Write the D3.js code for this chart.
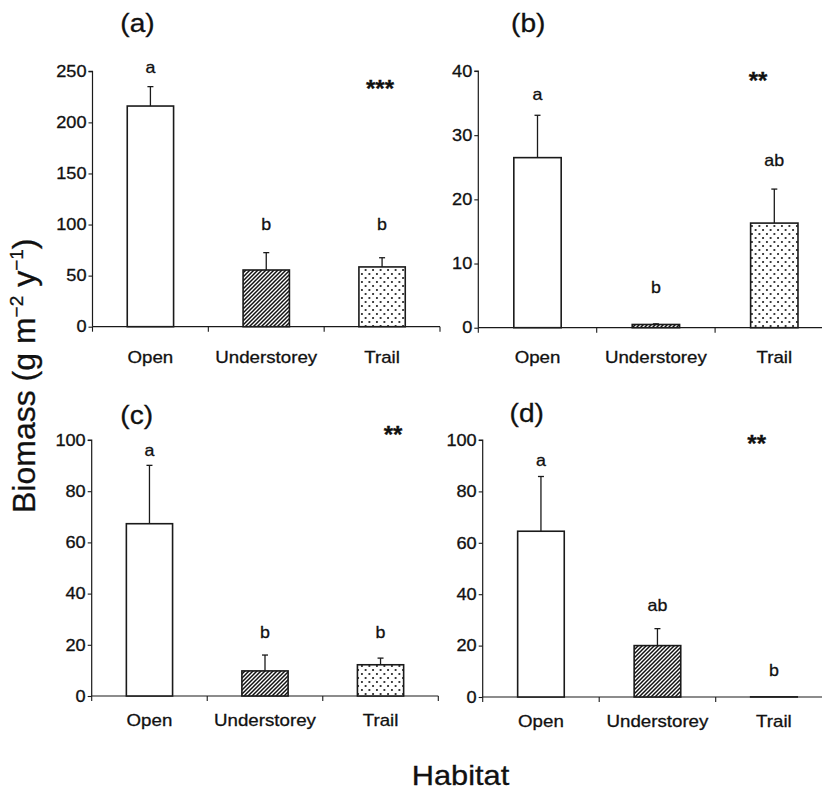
<!DOCTYPE html>
<html><head><meta charset="utf-8">
<script src="https://cdn.jsdelivr.net/npm/d3@7/dist/d3.min.js"></script>
<style>
html,body{margin:0;padding:0;background:#fff;}
svg{display:block;font-family:"Liberation Sans",Arial,Helvetica,sans-serif;}
text{stroke:#111;stroke-width:0.3px;}
</style></head>
<body>
<svg id="chart" width="822" height="791"></svg>
<script>
// ---------- data ----------
const categories = ["Open", "Understorey", "Trail"];
const panelNames = ["(a)", "(b)", "(c)", "(d)"];
const meansA = [216, 55.5, 58.5];
const seA    = [19, 17, 9];
const meansB = [26.5, 0.5, 16.3];
const seB    = [6.6, 0.1, 5.3];
const meansC = [67.3, 9.8, 12.2];
const seC    = [22.8, 6.2, 2.6];
const meansD = [64.5, 20, 0.05];
const seD    = [21.3, 6.6, 0];
const lettersA = ["a", "b", "b"];
const lettersB = ["a", "b", "ab"];
const lettersC = ["a", "b", "b"];
const lettersD = ["a", "ab", "b"];
const significance = ["***", "**", "**", "**"];
const yMaxes = [250, 40, 100, 100];
const yTickSteps = [50, 10, 20, 20];
const fills = ["open", "hatch", "dots"];

// ---------- layout ----------
const layout = [
  {left: 92.5, right: 440, y0: 326.7, yTop: 71.3, name: [137.5, 32], star: [380, 96.5], catDy: 36, letterAt: [248, 95, 95]},
  {left: 478.3, right: 833.5, y0: 327.7, yTop: 71, name: [528.3, 32], star: [758, 89], catDy: 35, letterAt: [35.5, 5.4, 25.2]},
  {left: 91.7, right: 438.3, y0: 696, yTop: 440, name: [136.7, 424], star: [393, 443], catDy: 30, letterAt: [93.8, 22.5, 22.5]},
  {left: 482.7, right: 832.2, y0: 697, yTop: 440, name: [526.7, 422], star: [756.7, 452], catDy: 30, letterAt: [89.9, 33.6, 8.2]}
];
const panelsData = [
  {means: meansA, se: seA, letters: lettersA},
  {means: meansB, se: seB, letters: lettersB},
  {means: meansC, se: seC, letters: lettersC},
  {means: meansD, se: seD, letters: lettersD}
];

const ink = "#1a1a1a";
const svg = d3.select("#chart");

function widen(sel, k) {
  sel.each(function () {
    const L = this.getComputedTextLength();
    this.setAttribute("textLength", (L * k).toFixed(2));
    this.setAttribute("lengthAdjust", "spacingAndGlyphs");
  });
}

// patterns
const defs = svg.append("defs");
const hatch = defs.append("pattern").attr("id", "hatch")
  .attr("patternUnits", "userSpaceOnUse").attr("width", 4).attr("height", 4);
hatch.append("rect").attr("width", 4).attr("height", 4).attr("fill", "#fff");
hatch.append("path").attr("d", "M-1,1 l2,-2 M0,4 l4,-4 M3,5 l2,-2")
  .attr("stroke", "#111").attr("stroke-width", 1.5);
const dots = defs.append("pattern").attr("id", "dots")
  .attr("patternUnits", "userSpaceOnUse").attr("width", 7.5).attr("height", 8);
dots.append("rect").attr("width", 7.5).attr("height", 8).attr("fill", "#fff");
dots.append("circle").attr("cx", 1.9).attr("cy", 2).attr("r", 0.95).attr("fill", "#000");
dots.append("circle").attr("cx", 5.6).attr("cy", 6).attr("r", 0.95).attr("fill", "#000");
const fillUrl = {open: "#fff", hatch: "url(#hatch)", dots: "url(#dots)"};

panelsData.forEach((pd, i) => {
  const L = layout[i];
  const g = svg.append("g");
  const x = d3.scaleBand().domain(categories).range([L.left, L.right]).paddingInner(0).paddingOuter(0);
  const y = d3.scaleLinear().domain([0, yMaxes[i]]).range([L.y0, L.yTop]);
  const bw = x.bandwidth() * 0.4;

  // y axis
  const yAxis = d3.axisLeft(y).tickValues(d3.range(0, yMaxes[i] + 0.001, yTickSteps[i]))
    .tickSize(4).tickPadding(2).tickFormat(d3.format("d"));
  const ya = g.append("g").attr("transform", `translate(${L.left},0)`).call(yAxis);
  ya.select(".domain").attr("stroke", ink).attr("stroke-width", 1.2).attr("d", `M-4,${L.yTop}H0V${L.y0}`);
  ya.selectAll(".tick line").attr("stroke", ink).attr("stroke-width", 1.1);
  ya.selectAll(".tick text").attr("font-size", 16.5).attr("fill", "#111")
    .attr("font-family", "Liberation Sans, Arial, sans-serif");
  widen(ya.selectAll(".tick text"), 1.1);

  // x axis line and boundary ticks
  g.append("line").attr("x1", L.left).attr("x2", L.right).attr("y1", L.y0).attr("y2", L.y0)
    .attr("stroke", ink).attr("stroke-width", 1.2);
  const edges = categories.map(c => x(c)).concat([x(categories[2]) + x.bandwidth()]);
  g.selectAll(".xt").data(edges).join("line")
    .attr("x1", d => d).attr("x2", d => d).attr("y1", L.y0).attr("y2", L.y0 + 5)
    .attr("stroke", ink).attr("stroke-width", 1.1);

  // bars
  const cx = c => x(c) + x.bandwidth() / 2;
  g.selectAll(".bar").data(categories).join("rect")
    .attr("x", c => cx(c) - bw / 2)
    .attr("y", (c, j) => y(pd.means[j]))
    .attr("width", bw)
    .attr("height", (c, j) => y(0) - y(pd.means[j]))
    .attr("fill", (c, j) => fillUrl[fills[j]])
    .attr("stroke", ink).attr("stroke-width", 1.6);

  // error bars (upper only)
  categories.forEach((c, j) => {
    if (pd.se[j] <= 0) return;
    const top = y(pd.means[j] + pd.se[j]);
    g.append("line").attr("x1", cx(c)).attr("x2", cx(c)).attr("y1", y(pd.means[j])).attr("y2", top)
      .attr("stroke", ink).attr("stroke-width", 1.3);
    g.append("line").attr("x1", cx(c) - 3).attr("x2", cx(c) + 3).attr("y1", top).attr("y2", top)
      .attr("stroke", ink).attr("stroke-width", 1.3);
  });

  // letters
  const lt = g.selectAll(".letter").data(categories).join("text")
    .attr("x", c => cx(c)).attr("y", (c, j) => y(L.letterAt[j]))
    .attr("text-anchor", "middle").attr("font-size", 16.5).attr("fill", "#111")
    .text((c, j) => pd.letters[j]);
  widen(lt, 1.08);

  // category labels
  const cl = g.selectAll(".cat").data(categories).join("text")
    .attr("x", c => cx(c)).attr("y", L.y0 + L.catDy)
    .attr("text-anchor", "middle").attr("font-size", 17).attr("fill", "#111")
    .text(c => c);
  widen(cl, 1.1);

  // panel name
  const pn = g.append("text").attr("x", L.name[0]).attr("y", L.name[1])
    .attr("text-anchor", "middle").attr("font-size", 26).attr("fill", "#111")
    .text(panelNames[i]);
  widen(pn, 1.08);

  // significance stars
  g.append("text").attr("x", L.star[0]).attr("y", L.star[1])
    .attr("text-anchor", "middle").attr("font-size", 24).attr("font-weight", "bold").attr("fill", "#111")
    .text(significance[i]);
});

// axis titles
const yt = svg.append("text").attr("transform", "translate(35,513) rotate(-90)")
  .attr("font-size", 32).attr("fill", "#111");
yt.append("tspan").text("Biomass (g m");
yt.append("tspan").attr("font-size", 19).attr("dy", -12).text("\u22122");
yt.append("tspan").attr("dy", 12).text(" y");
yt.append("tspan").attr("font-size", 19).attr("dy", -12).text("\u22121");
yt.append("tspan").attr("dy", 12).text(")");

const xt = svg.append("text").attr("x", 460.5).attr("y", 785).attr("text-anchor", "middle")
  .attr("font-size", 28).attr("fill", "#111").text("Habitat");
widen(xt, 1.1);
</script>
</body></html>
